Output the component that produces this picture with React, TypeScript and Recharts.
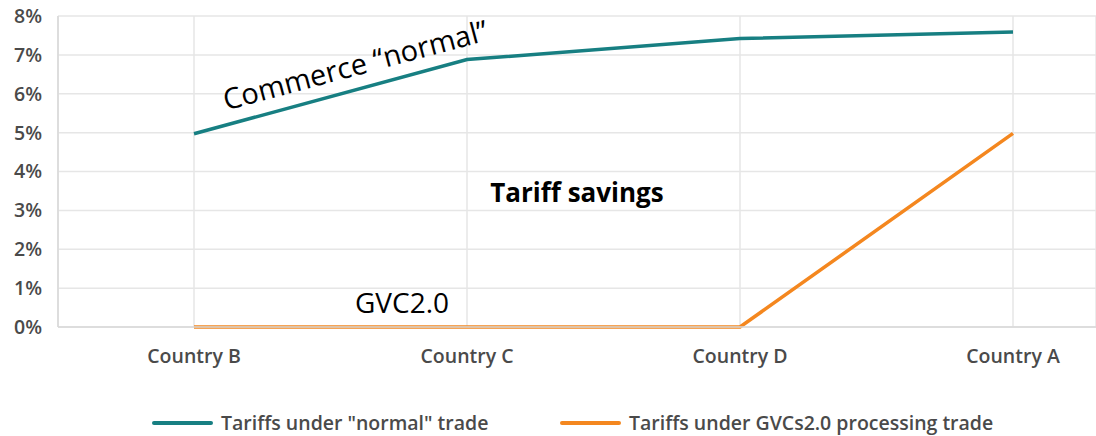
import React from "react";
import { LineChart, Line, XAxis, YAxis, CartesianGrid, Legend } from "recharts";

const categories = ["Country B", "Country C", "Country D", "Country A"];
const normalTrade = [4.97, 6.88, 7.42, 7.59];
const gvcTrade = [0, 0, 0, 4.98];
const yTicks = [0, 1, 2, 3, 4, 5, 6, 7, 8];
const seriesNames = ['Tariffs under "normal" trade', "Tariffs under GVCs2.0 processing trade"];

const data = categories.map((c, i) => ({ name: c, normal: normalTrade[i], gvc: gvcTrade[i] }));

const TEAL = "#177F82";
const ORANGE = "#F4871F";
const FONT = "'Open Sans', Lato, sans-serif";
const LABEL_COLOR = "#4a4a4a";

const renderLegend = (props: any) => {
  const { payload } = props;
  return (
    <div style={{ position: "relative", height: 50, fontFamily: FONT }}>
      {payload.map((p: any, i: number) => {
        const left = i === 0 ? 152 : 560;
        return (
          <div key={i} style={{ position: "absolute", left, top: 23, display: "flex", alignItems: "center" }}>
            <div style={{ width: 61, height: 4, background: p.color, borderRadius: 2 }} />
            <span style={{ marginLeft: 8, fontSize: 19.5, fontWeight: 600, color: LABEL_COLOR }}>{p.value}</span>
          </div>
        );
      })}
    </div>
  );
};

export default function App() {
  return (
    <div style={{ position: "absolute", left: 0, top: 0, width: 1096, height: 436, background: "#fff" }}>
      <LineChart width={1096} height={436} data={data} margin={{ top: 16, right: 0, left: 0, bottom: 0 }}>
        <CartesianGrid stroke="#e6e6e6" strokeWidth={1.5} />
        <XAxis
          dataKey="name"
          padding={{ left: 136, right: 83 }}
          axisLine={{ stroke: "#d9d9d9", strokeWidth: 1.5 }}
          tickLine={false}
          tickSize={6}
          tickMargin={16}
          height={59}
          tick={{ fill: LABEL_COLOR, fontSize: 19.5, fontWeight: 600, fontFamily: FONT }}
          interval={0}
        />
        <YAxis
          domain={[0, 8]}
          ticks={yTicks}
          tickFormatter={(v: number) => `${v}%`}
          width={58}
          axisLine={{ stroke: "#d9d9d9", strokeWidth: 1.5 }}
          tickLine={false}
          tickSize={6}
          tickMargin={10}
          tick={{ fill: LABEL_COLOR, fontSize: 19.5, fontWeight: 600, fontFamily: FONT }}
        />
        <Legend verticalAlign="bottom" height={50} content={renderLegend} />
        <Line
          type="linear"
          dataKey="normal"
          name={seriesNames[0]}
          stroke={TEAL}
          strokeWidth={3.5}
          dot={false}
          isAnimationActive={false}
        />
        <Line
          type="linear"
          dataKey="gvc"
          name={seriesNames[1]}
          stroke={ORANGE}
          strokeWidth={3.5}
          dot={false}
          isAnimationActive={false}
        />
      </LineChart>
      <div
        style={{
          position: "absolute",
          left: 355,
          top: 64,
          transform: "translate(-50%, -50%) rotate(-15deg)",
          fontFamily: FONT,
          fontSize: 29,
          color: "#000",
          whiteSpace: "nowrap",
        }}
      >
        Commerce “normal”
      </div>
      <div
        style={{
          position: "absolute",
          left: 577,
          top: 192,
          transform: "translate(-50%, -50%)",
          fontFamily: FONT,
          fontSize: 26,
          fontWeight: 700,
          color: "#000",
          whiteSpace: "nowrap",
        }}
      >
        Tariff savings
      </div>
      <div
        style={{
          position: "absolute",
          left: 402,
          top: 302,
          transform: "translate(-50%, -50%)",
          fontFamily: FONT,
          fontSize: 28,
          color: "#000",
          whiteSpace: "nowrap",
        }}
      >
        GVC2.0
      </div>
    </div>
  );
}
